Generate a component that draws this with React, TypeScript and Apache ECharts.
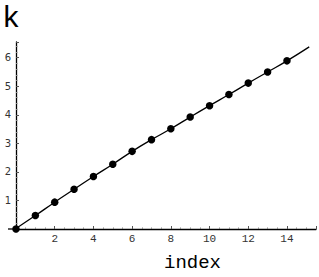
import React, { useEffect, useRef } from "react";
import * as echarts from "echarts";

const indexValues = [0, 1, 2, 3, 4, 5, 6, 7, 8, 9, 10, 11, 12, 13, 14];
const kValues = [0, 0.47, 0.94, 1.39, 1.84, 2.27, 2.72, 3.13, 3.51, 3.92, 4.32, 4.71, 5.11, 5.5, 5.89];
const curveX = [0, 1, 2, 3, 4, 5, 6, 7, 8, 9, 10, 11, 12, 13, 14, 15.15];
const curveY = [0.02, 0.47, 0.94, 1.39, 1.84, 2.27, 2.72, 3.13, 3.51, 3.92, 4.32, 4.71, 5.11, 5.5, 5.89, 6.38];
const xTickLabels = ["2", "4", "6", "8", "10", "12", "14"];
const yTickLabels = ["1", "2", "3", "4", "5", "6"];
const xTitle = "index";
const yTitle = "k";

const MONO = "Liberation Mono";

export default function App() {
  const ref = useRef<HTMLDivElement>(null);
  useEffect(() => {
    if (!ref.current) return;
    const chart = echarts.init(ref.current, null, { renderer: "svg" });
    const titles = [
      {
        type: "text",
        left: 2,
        top: 4,
        style: { text: yTitle, fontFamily: MONO, fontSize: 30, fill: "#000" },
      },
      {
        type: "text",
        left: 164,
        top: 253,
        style: { text: xTitle, fontFamily: MONO, fontSize: 19, fill: "#000" },
      },
    ];
    chart.setOption({
      animation: false,
      backgroundColor: "#fff",
      grid: { left: 16, right: 1, top: 42, bottom: 48, containLabel: false },
      xAxis: {
        type: "value",
        min: 0,
        max: 15.5,
        interval: 2,
        axisLine: { show: true, lineStyle: { color: "#000", width: 1.3 } },
        axisTick: { show: true, inside: true, length: 3, lineStyle: { color: "#555" } },
        minorTick: { show: true, splitNumber: 4, length: 1.5, lineStyle: { color: "#888" } },
        splitLine: { show: false },
        axisLabel: {
          margin: 4,
          fontFamily: MONO,
          fontSize: 11,
          color: "#333",
          formatter: (v: number) => (xTickLabels.includes(String(v)) ? String(v) : ""),
        },
      },
      yAxis: {
        type: "value",
        min: 0,
        max: 6.55,
        interval: 1,
        axisLine: { show: true, onZero: true, lineStyle: { color: "#000", width: 1.3 } },
        axisTick: { show: true, inside: true, length: 3, lineStyle: { color: "#555" } },
        minorTick: { show: true, splitNumber: 5, length: 1.5, lineStyle: { color: "#888" } },
        splitLine: { show: false },
        axisLabel: {
          margin: 5,
          fontFamily: "DejaVu Sans",
          fontSize: 10,
          color: "#333",
          formatter: (v: number) => (yTickLabels.includes(String(v)) ? String(v) : ""),
        },
      },
      series: [
        {
          type: "line",
          data: curveX.map((x, i) => [x, curveY[i]]),
          smooth: true,
          showSymbol: false,
          lineStyle: { color: "#000", width: 1.3 },
          clip: false,
          z: 2,
        },
        {
          type: "scatter",
          data: indexValues.map((x, i) => [x, kValues[i]]),
          symbolSize: 7.5,
          itemStyle: { color: "#000", opacity: 1 },
          clip: false,
          z: 3,
        },
      ],
      graphic: titles,
    });
    const origin = chart.convertToPixel({ gridIndex: 0 }, [0, 0]) as number[];
    chart.setOption(
      {
        graphic: [
          ...titles,
          {
            type: "line",
            shape: { x1: origin[0] - 8, y1: origin[1], x2: origin[0], y2: origin[1] },
            style: { stroke: "#000", lineWidth: 1.3 },
          },
        ],
      },
      { replaceMerge: ["graphic"] }
    );
    return () => chart.dispose();
  }, []);
  return <div ref={ref} style={{ width: 319, height: 277, position: "absolute", left: 0, top: 0 }} />;
}
